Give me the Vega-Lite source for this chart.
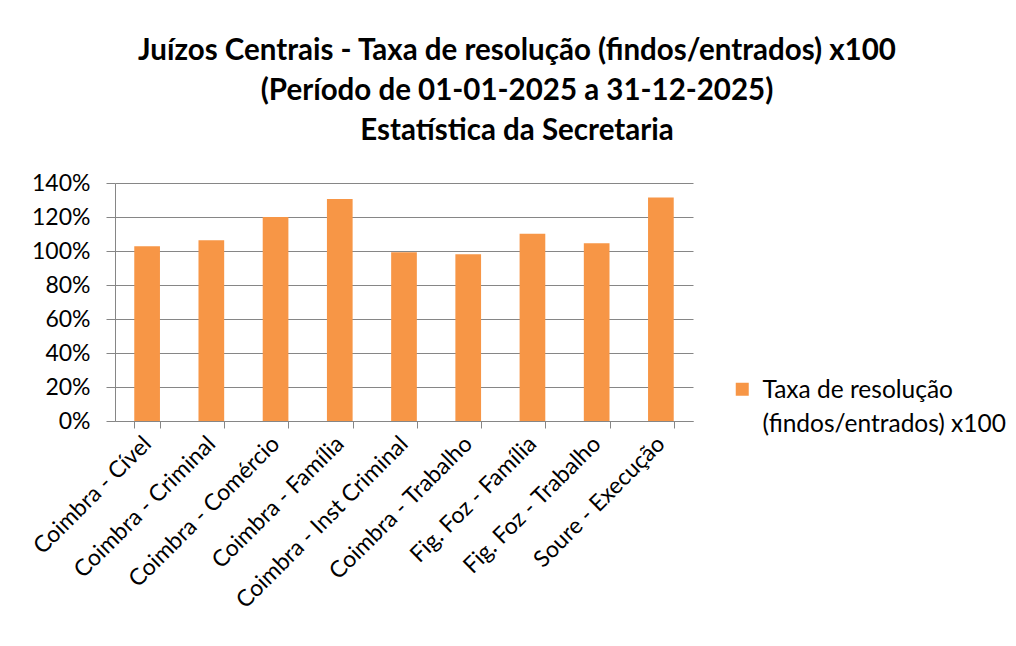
{
  "$schema": "https://vega.github.io/schema/vega-lite/v6.json",
  "autosize": {"type": "none"},
  "padding": {"left": 115, "top": 183, "right": 323, "bottom": 225},
  "width": 578,
  "height": 238,
  "background": "white",
  "title": {
    "text": ["Juízos Centrais - Taxa de resolução (findos/entrados) x100", "(Período de 01-01-2025 a 31-12-2025)", "Estatística da Secretaria"],
    "font": "Lato",
    "fontSize": 29.5,
    "fontWeight": "bold",
    "color": "#000000",
    "lineHeight": 40,
    "anchor": "middle",
    "frame": "group",
    "dx": 113,
    "offset": 26
  },
  "data": {
    "values": [
      {"juizo": "Coimbra - Cível", "taxa": 1.028, "serie": "Taxa de resolução (findos/entrados) x100"},
      {"juizo": "Coimbra - Criminal", "taxa": 1.063, "serie": "Taxa de resolução (findos/entrados) x100"},
      {"juizo": "Coimbra - Comércio", "taxa": 1.2, "serie": "Taxa de resolução (findos/entrados) x100"},
      {"juizo": "Coimbra - Família", "taxa": 1.306, "serie": "Taxa de resolução (findos/entrados) x100"},
      {"juizo": "Coimbra - Inst Criminal", "taxa": 0.992, "serie": "Taxa de resolução (findos/entrados) x100"},
      {"juizo": "Coimbra - Trabalho", "taxa": 0.981, "serie": "Taxa de resolução (findos/entrados) x100"},
      {"juizo": "Fig. Foz - Família", "taxa": 1.102, "serie": "Taxa de resolução (findos/entrados) x100"},
      {"juizo": "Fig. Foz - Trabalho", "taxa": 1.045, "serie": "Taxa de resolução (findos/entrados) x100"},
      {"juizo": "Soure - Execução", "taxa": 1.314, "serie": "Taxa de resolução (findos/entrados) x100"}
    ]
  },
  "mark": {"type": "bar"},
  "encoding": {
    "x": {
      "field": "juizo", "type": "nominal", "sort": null,
      "scale": {"paddingInner": 0.6, "paddingOuter": 0.3},
      "axis": {"orient": "bottom", "title": null, "labelAngle": -45, "labelAlign": "right", "labelBaseline": "middle", "labelPadding": 12, "labelFont": "Lato", "labelFontSize": 23, "labelColor": "#000000", "labelLimit": 400, "ticks": true, "tickBand": "extent", "tickSize": 7, "tickColor": "#868686", "tickWidth": 1, "domain": true, "domainColor": "#868686", "domainWidth": 1, "grid": false}
    },
    "y": {
      "field": "taxa", "type": "quantitative",
      "scale": {"domain": [0, 1.4]},
      "axis": {"title": null, "format": ".0%", "values": [0, 0.2, 0.4, 0.6, 0.8, 1.0, 1.2, 1.4], "labelFont": "Lato", "labelFontSize": 23, "labelColor": "#000000", "labelPadding": 16, "tickSize": 9, "tickColor": "#868686", "grid": true, "gridColor": "#868686", "gridWidth": 1, "domainColor": "#868686", "domainWidth": 1}
    },
    "color": {
      "field": "serie", "type": "nominal",
      "scale": {"range": ["#F79646"]},
      "legend": {
        "title": null,
        "orient": "none",
        "legendX": 615,
        "legendY": 194,
        "padding": 0,
        "symbolType": "square",
        "symbolSize": 169,
        "symbolStrokeWidth": 0,
        "labelFont": "Lato",
        "labelFontSize": 24.5,
        "labelColor": "#000000",
        "labelOffset": 8,
        "labelLimit": 400,
        "labelExpr": "['Taxa de resolução', '(findos/entrados) x100']",
        "encode": {"labels": {"update": {"lineHeight": {"value": 34}, "baseline": {"value": "alphabetic"}, "dy": {"value": 9}}}}
      }
    }
  },
  "config": {"view": {"stroke": null}}
}
